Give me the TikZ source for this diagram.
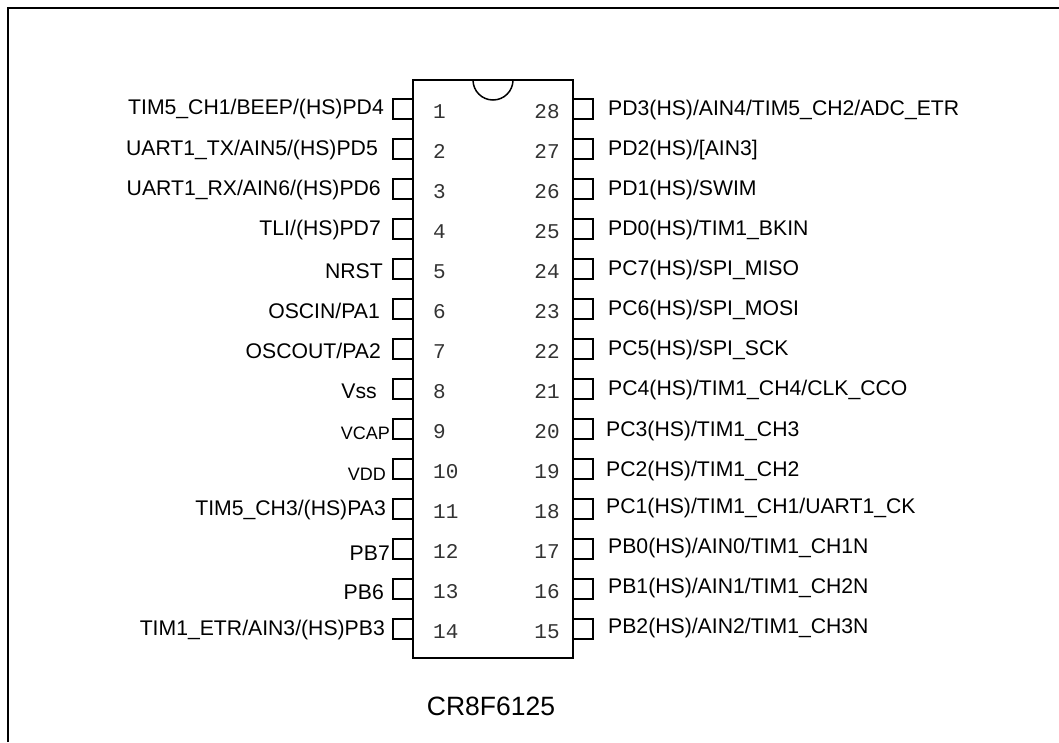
\documentclass[tikz,border=0pt]{standalone}
\usepackage{fontspec}
\setmainfont{Liberation Sans}
\newfontfamily\numfont{Liberation Mono}
\tikzset{
  x=1pt,y=-1pt,
  chip/.style={draw=black,line width=1.5pt},
  frameline/.style={draw=black,line width=2.4pt},
  pinbox/.style={draw=black,line width=1.5pt,fill=white,minimum width=20pt,minimum height=20pt,inner sep=0pt,outer sep=0pt},
  lbl/.style={font=\fontsize{21.2pt}{24pt}\selectfont,text=black,inner sep=0pt,anchor=base east},
  rbl/.style={font=\fontsize{21.2pt}{24pt}\selectfont,text=black,inner sep=0pt,anchor=base west},
  small/.style={font=\fontsize{18pt}{20pt}\selectfont},
  num/.style={font=\numfont\fontsize{21pt}{24pt}\selectfont,text=black!80,inner sep=0pt,anchor=base},
  numl/.style={num,anchor=base west},
}
\begin{document}
\begin{tikzpicture}
\useasboundingbox (0,0) rectangle (1059,742);
\draw[frameline] (8,742) -- (8,8) -- (1059,8);
% pins
\foreach \i in {1,...,14}{
  \pgfmathsetmacro{\yy}{109+(\i-1)*40}
  \node[pinbox] (L\i) at (403,\yy) {};
  \node[pinbox] (R\i) at (583,\yy) {};
}
\path[chip,fill=white] (413,80) rectangle (573,658);
\draw[chip] (473,80) arc[start angle=180,end angle=0,radius=20];
\foreach \i in {1,...,14}{
  \pgfmathsetmacro{\yy}{109+(\i-1)*40}
  \pgfmathtruncatemacro{\rn}{29-\i}
  \node[numl] (NL\i) at (433,\yy+9) {\i};
  \node[num] (NR\i) at (547,\yy+9) {\rn};
}
% left labels
\node[lbl] (a1) at (384,114) {TIM5\_CH1/BEEP/(HS)PD4};
\node[lbl] (a2) at (378,155) {UART1\_TX/AIN5/(HS)PD5};
\node[lbl] (a3) at (381,195) {UART1\_RX/AIN6/(HS)PD6};
\node[lbl] (a4) at (381,235) {TLI/(HS)PD7};
\node[lbl] (a5) at (383,278) {NRST};
\node[lbl] (a6) at (380,318) {OSCIN/PA1};
\node[lbl] (a7) at (381,358) {OSCOUT/PA2};
\node[lbl] (a8) at (377,398) {Vss};
\node[lbl,small] (a9) at (390,439) {VCAP};
\node[lbl,small] (a10) at (386,480) {VDD};
\node[lbl] (a11) at (386,515) {TIM5\_CH3/(HS)PA3};
\node[lbl] (a12) at (390,560) {PB7};
\node[lbl] (a13) at (384,599) {PB6};
\node[lbl] (a14) at (385,635) {TIM1\_ETR/AIN3/(HS)PB3};
% right labels
\node[rbl] (b1) at (608,115) {PD3(HS)/AIN4/TIM5\_CH2/ADC\_ETR};
\node[rbl] (b2) at (608,155) {PD2(HS)/[AIN3]};
\node[rbl] (b3) at (608,195) {PD1(HS)/SWIM};
\node[rbl] (b4) at (608,235) {PD0(HS)/TIM1\_BKIN};
\node[rbl] (b5) at (608,275) {PC7(HS)/SPI\_MISO};
\node[rbl] (b6) at (608,315) {PC6(HS)/SPI\_MOSI};
\node[rbl] (b7) at (608,355) {PC5(HS)/SPI\_SCK};
\node[rbl] (b8) at (608,395) {PC4(HS)/TIM1\_CH4/CLK\_CCO};
\node[rbl] (b9) at (606,436) {PC3(HS)/TIM1\_CH3};
\node[rbl] (b10) at (606,476) {PC2(HS)/TIM1\_CH2};
\node[rbl] (b11) at (606,513) {PC1(HS)/TIM1\_CH1/UART1\_CK};
\node[rbl] (b12) at (608,553) {PB0(HS)/AIN0/TIM1\_CH1N};
\node[rbl] (b13) at (608,593) {PB1(HS)/AIN1/TIM1\_CH2N};
\node[rbl] (b14) at (608,633) {PB2(HS)/AIN2/TIM1\_CH3N};
\node[font=\fontsize{26.5pt}{30pt}\selectfont,inner sep=0pt,anchor=base] (title) at (491,715) {CR8F6125};
\end{tikzpicture}
\end{document}
